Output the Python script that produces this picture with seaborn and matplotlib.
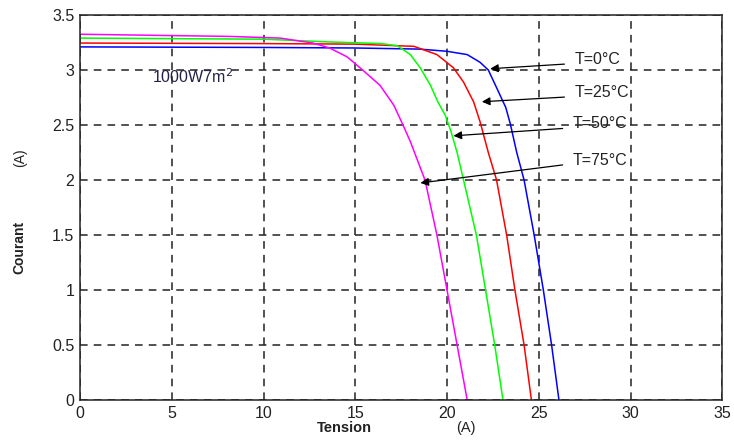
import pandas as pd
import matplotlib
matplotlib.use("Agg")
import matplotlib.pyplot as plt
import seaborn as sns

# I-V curves, one per temperature
labels = ["T=0°C", "T=25°C", "T=50°C", "T=75°C"]
colors = ["#0000ff", "#ff0000", "#00ff00", "#ff00ff"]

v_0 = [0, 10, 15, 18.5, 20, 21.1, 21.8, 22.25, 22.7, 23.2, 23.45, 23.8, 24.2, 24.75, 25.25, 25.7, 26.1]
i_0 = [3.21, 3.205, 3.2, 3.19, 3.17, 3.14, 3.07, 3.0, 2.84, 2.66, 2.51, 2.25, 2.0, 1.5, 1.0, 0.5, 0.0]

v_25 = [0, 10, 15, 18.2, 19.45, 20.35, 20.9, 21.45, 21.8, 22.25, 22.7, 23.25, 23.7, 24.2, 24.6]
i_25 = [3.245, 3.24, 3.235, 3.215, 3.14, 3.02, 2.89, 2.71, 2.53, 2.25, 2.0, 1.5, 1.0, 0.5, 0.0]

v_50 = [0, 10, 13.6, 16.4, 17.3, 18.0, 18.54, 19.1, 19.5, 19.9, 20.2, 20.55, 20.9, 21.6, 22.1, 22.6, 23.05]
i_50 = [3.29, 3.28, 3.255, 3.24, 3.22, 3.14, 3.02, 2.86, 2.71, 2.59, 2.45, 2.25, 2.0, 1.5, 1.0, 0.5, 0.0]

v_75 = [0, 8.2, 10.9, 12.7, 13.6, 14.55, 15.4, 16.35, 17.1, 17.6, 18.0, 18.8, 19.45, 20.0, 20.55, 21.1]
i_75 = [3.325, 3.305, 3.29, 3.245, 3.2, 3.12, 3.0, 2.86, 2.68, 2.5, 2.35, 2.0, 1.5, 1.0, 0.5, 0.0]

# arrow tail (text side) and tip (curve side) in data coords
arrow_tail = [(26.55, 3.055), (26.55, 2.755), (26.45, 2.47), (26.45, 2.14)]
arrow_tip = [(22.2, 3.01), (21.75, 2.71), (20.2, 2.4), (18.4, 1.97)]

frames = []
for lab, v, i in zip(labels, [v_0, v_25, v_50, v_75], [i_0, i_25, i_50, i_75]):
    frames.append(pd.DataFrame({"V": v, "I": i, "T": lab}))
df = pd.concat(frames, ignore_index=True)

sns.set_style("white")
plt.rcParams["font.family"] = ["Liberation Sans", "DejaVu Sans"]

fig = plt.figure(figsize=(7.34, 4.41), dpi=100)
ax = fig.add_axes([0.109, 0.093, 0.875, 0.873])

sns.lineplot(data=df, x="V", y="I", hue="T", palette=colors, sort=False,
             linewidth=1.1, legend=False, ax=ax)

ax.set_xlim(0, 35)
ax.set_ylim(0, 3.5)
ax.set_xticks(range(0, 36, 5))
ax.set_yticks([0, 0.5, 1, 1.5, 2, 2.5, 3, 3.5])
ax.set_yticklabels(["0", "0.5", "1", "1.5", "2", "2.5", "3", "3.5"])
ax.grid(True, color="#222222", linestyle=(0, (5, 4)), linewidth=1.1)
for s in ax.spines.values():
    s.set_color("#222222")
    s.set_linewidth(1.1)
ax.tick_params(axis="both", labelsize=11.5, colors="#222222", length=0, pad=4)
ax.set_xlabel("")
ax.set_ylabel("")

for lab, tail, tip in zip(labels, arrow_tail, arrow_tip):
    ax.annotate("", xy=tip, xytext=tail,
                arrowprops=dict(arrowstyle="-|>", color="black", lw=0.9,
                                mutation_scale=12))
    ax.text(tail[0] + 0.4, tail[1] + 0.04, lab, fontsize=11.5, color="#222222",
            va="center", ha="left")

ax.text(3.9, 2.94, "1000W7m$^2$", fontsize=11.5, color="#222244",
        va="center", ha="left")

fig.text(0.432, 0.02, "Tension", fontsize=10.5, fontweight="bold", color="#222222")
fig.text(0.622, 0.02, "(A)", fontsize=10.5, color="#222222")
fig.text(0.027, 0.44, "Courant", fontsize=10, fontweight="bold", color="#222222",
         rotation=90, va="center", ha="center")
fig.text(0.027, 0.642, "(A)", fontsize=10, color="#222222",
         rotation=90, va="center", ha="center")

fig.savefig("out.png", dpi=100)
